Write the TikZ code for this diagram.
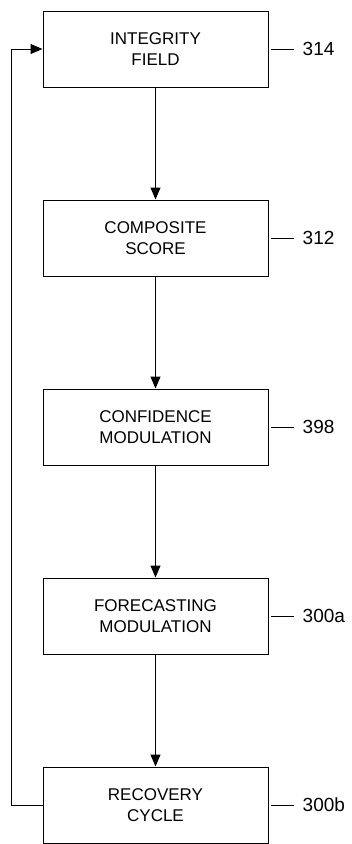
\documentclass[tikz,border=0pt]{standalone}
\usepackage{fontspec}
\setmainfont{Liberation Sans}
\usetikzlibrary{arrows.meta, positioning}
\tikzset {
  box/.style = {draw, line width=1pt, rectangle, fill=white, minimum height=76pt, minimum width=225pt, align=center, font=\fontsize{17}{21}\selectfont},
  ref/.style = {anchor=west, inner sep=0pt, font=\fontsize{19}{22}\selectfont},
  line/.style = {-{Triangle[length=12pt, width=10pt]}, line width=1pt, color=black},
  tick/.style = {line width=1pt, color=black, shorten <=2pt, shorten >=9pt}
}

\begin{document}
\begin{tikzpicture}[x=1pt, y=1pt, node distance=112pt]
    \useasboundingbox (0,0) rectangle (352,-844);

    \node[box] (integrity) at (155.5,-49) {INTEGRITY\\FIELD};
    \node[box, below=of integrity] (composite) {COMPOSITE\\SCORE};
    \node[box, below=of composite] (confidence) {CONFIDENCE\\MODULATION};
    \node[box, below=of confidence] (forecasting) {FORECASTING\\MODULATION};
    \node[box, below=of forecasting] (recovery) {RECOVERY\\CYCLE};

    % reference numerals
    \node[ref, right=34pt of integrity] (r314) {314};
    \node[ref, right=34pt of composite] (r312) {312};
    \node[ref, right=34pt of confidence] (r398) {398};
    \node[ref, right=34pt of forecasting] (r300a) {300a};
    \node[ref, right=34pt of recovery] (r300b) {300b};

    \foreach \b/\r in {integrity/r314, composite/r312, confidence/r398, forecasting/r300a, recovery/r300b}
        \draw[tick] (\b.east) -- (\r.west);

    \draw[line] (integrity) -- (composite);
    \draw[line] (composite) -- (confidence);
    \draw[line] (confidence) -- (forecasting);
    \draw[line] (forecasting) -- (recovery);

    % feedback loop
    \draw[line] (recovery.west) -- ++(-31pt,0) |- (integrity.west);

  \end{tikzpicture}
\end{document}
